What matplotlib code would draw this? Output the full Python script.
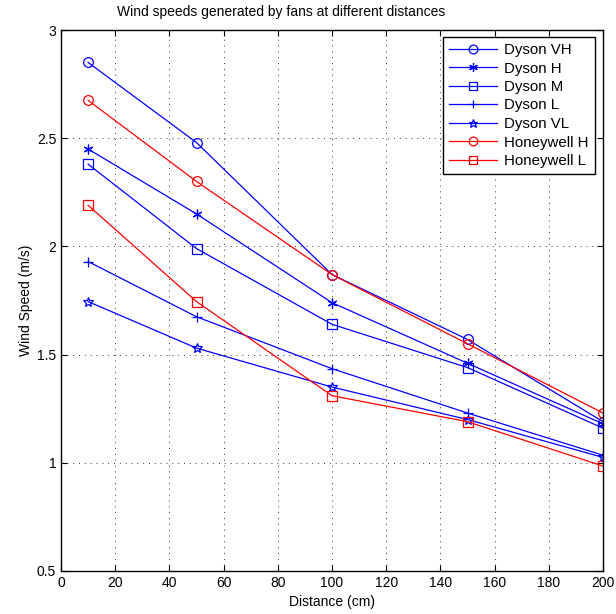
import numpy as np
import matplotlib
matplotlib.use("Agg")
import matplotlib.pyplot as plt

plt.rcParams['font.family'] = ['Liberation Sans', 'DejaVu Sans']

# distances (cm) and measured wind speeds (m/s)
distance = [10, 50, 100, 150, 200]
dyson_vh = [2.85, 2.48, 1.87, 1.57, 1.19]
dyson_h = [2.45, 2.15, 1.74, 1.46, 1.18]
dyson_m = [2.38, 1.99, 1.64, 1.44, 1.16]
dyson_l = [1.93, 1.675, 1.435, 1.23, 1.035]
dyson_vl = [1.745, 1.53, 1.35, 1.20, 1.025]
honeywell_h = [2.675, 2.30, 1.87, 1.55, 1.23]
honeywell_l = [2.19, 1.745, 1.31, 1.19, 0.985]

series = [
    ("Dyson VH", dyson_vh, 'b', 'o'),
    ("Dyson H", dyson_h, 'b', (6, 2, 0)),
    ("Dyson M", dyson_m, 'b', 's'),
    ("Dyson L", dyson_l, 'b', '+'),
    ("Dyson VL", dyson_vl, 'b', '*'),
    ("Honeywell H", honeywell_h, 'r', 'o'),
    ("Honeywell L", honeywell_l, 'r', 's'),
]

fig = plt.figure(figsize=(6.16, 6.14), dpi=100)
ax = fig.add_axes([61/616, 1 - 571/614, (603-61)/616, (571-30)/614])

for name, vals, col, mk in series:
    ax.plot(distance, vals, color=col, marker=mk, markersize=7,
            markerfacecolor='none', markeredgecolor=col, markeredgewidth=0.9,
            linewidth=0.9, label=name)

ax.set_xlim(0, 200)
ax.set_ylim(0.5, 3)
ax.set_xticks(np.arange(0, 201, 20))
ax.set_yticks(np.arange(0.5, 3.01, 0.5))
ax.set_yticklabels(['0.5', '1', '1.5', '2', '2.5', '3'])
ax.grid(True, linestyle=(0, (1, 5)), color='k', linewidth=0.7, alpha=0.8)
ax.tick_params(direction='in', top=True, right=True, labelsize=10, length=4, width=0.8)
for s in ax.spines.values():
    s.set_linewidth(1.0)

ax.set_xlabel('Distance (cm)', fontsize=10, labelpad=4)
ax.set_ylabel('Wind Speed (m/s)', fontsize=10, labelpad=3)
fig.text(281/616, 1 - 12/614, 'Wind speeds generated by fans at different distances',
         ha='center', va='center', fontsize=10)

leg = ax.legend(loc='upper right', fontsize=10.8, handlelength=3.2,
                bbox_to_anchor=(595/616, 1 - 37/614), bbox_transform=fig.transFigure,
                borderaxespad=0, fancybox=False, framealpha=1, edgecolor='k',
                labelspacing=0.3, borderpad=0.4, handletextpad=0.5, markerscale=0.9)
leg.get_frame().set_linewidth(1.0)

fig.savefig('out.png', dpi=100)
